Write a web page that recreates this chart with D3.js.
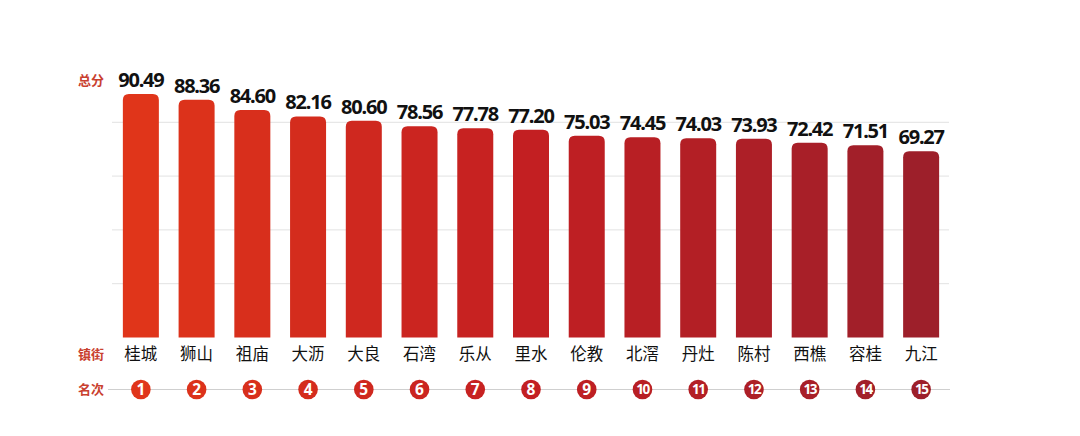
<!DOCTYPE html>
<html>
<head>
<meta charset="utf-8">
<script src="https://cdn.jsdelivr.net/npm/d3@7"></script>
<style>
  body { margin: 0; background: #fff; }
  svg { display: block; }
</style>
</head>
<body>
<div class="container"></div>
<script>
var width = 1080;
var height = 436;

// data
var towns = ["桂城", "狮山", "祖庙", "大沥", "大良", "石湾", "乐从", "里水", "伦教", "北滘", "丹灶", "陈村", "西樵", "容桂", "九江"];
var scores = [90.49, 88.36, 84.60, 82.16, 80.60, 78.56, 77.78, 77.20, 75.03, 74.45, 74.03, 73.93, 72.42, 71.51, 69.27];
var ranks = [1, 2, 3, 4, 5, 6, 7, 8, 9, 10, 11, 12, 13, 14, 15];
var gridValues = [20, 40, 60, 80];

var labelRed = "#c9402f";
var cnFont = "'Noto Sans CJK SC', sans-serif";
var numFont = "'Noto Sans', 'DejaVu Sans', sans-serif";

var svg = d3.select(".container").append("svg")
  .attr("width", width)
  .attr("height", height);

var xScale = d3.scaleBand()
  .domain(towns)
  .range([113, 949])
  .paddingInner(0.354)
  .paddingOuter(0.177);

var yScale = d3.scaleLinear()
  .domain([0, 100])
  .range([337.5, 68.5]);

// colour runs from orange-red to dark crimson
var colorScale = d3.scaleLinear()
  .domain([0, 7, 14])
  .range(["#e0351a", "#c31f22", "#9d1f2a"])
  .interpolate(d3.interpolateRgb);

// gridlines
svg.append("g")
  .selectAll("line")
  .data(gridValues)
  .enter().append("line")
  .attr("x1", 112)
  .attr("x2", 949)
  .attr("y1", d => yScale(d))
  .attr("y2", d => yScale(d))
  .style("stroke", "#e2e2e2")
  .style("stroke-width", 1);

// bars with rounded top corners
function barPath(x, y, w, h, r) {
  return "M" + x + "," + (y + h) +
    "V" + (y + r) +
    "Q" + x + "," + y + " " + (x + r) + "," + y +
    "H" + (x + w - r) +
    "Q" + (x + w) + "," + y + " " + (x + w) + "," + (y + r) +
    "V" + (y + h) + "Z";
}

svg.append("g")
  .selectAll("path")
  .data(scores)
  .enter().append("path")
  .attr("d", function(d, i) {
    var x = xScale(towns[i]);
    var y = yScale(d);
    return barPath(x, y, xScale.bandwidth(), yScale(0) - y, 6);
  })
  .attr("fill", (d, i) => colorScale(i));

// value labels
svg.append("g")
  .selectAll("text")
  .data(scores)
  .enter().append("text")
  .attr("x", (d, i) => xScale(towns[i]) + xScale.bandwidth() / 2)
  .attr("y", d => yScale(d) - 7)
  .style("text-anchor", "middle")
  .style("font-family", numFont)
  .style("font-weight", "bold")
  .style("font-size", "20px")
  .style("letter-spacing", "-1.2px")
  .style("fill", "#111")
  .text(d => d.toFixed(2));

// town names
svg.append("g")
  .selectAll("text")
  .data(towns)
  .enter().append("text")
  .attr("x", d => xScale(d) + xScale.bandwidth() / 2)
  .attr("y", 360)
  .style("text-anchor", "middle")
  .style("font-family", cnFont)
  .style("font-size", "16.5px")
  .style("fill", "#111")
  .text(d => d);

// rank row
var rankY = 389.5;
svg.append("line")
  .attr("x1", 108)
  .attr("x2", 950)
  .attr("y1", rankY)
  .attr("y2", rankY)
  .style("stroke", "#cfcfcf")
  .style("stroke-width", 1);

var rankGroup = svg.append("g");
rankGroup.selectAll("circle")
  .data(ranks)
  .enter().append("circle")
  .attr("cx", (d, i) => xScale(towns[i]) + xScale.bandwidth() / 2)
  .attr("cy", rankY)
  .attr("r", 9.8)
  .attr("fill", (d, i) => colorScale(i));

rankGroup.selectAll("text")
  .data(ranks)
  .enter().append("text")
  .attr("x", (d, i) => xScale(towns[i]) + xScale.bandwidth() / 2)
  .attr("y", rankY)
  .attr("dy", "0.36em")
  .style("text-anchor", "middle")
  .style("font-family", numFont)
  .style("font-weight", "bold")
  .style("font-size", d => d > 9 ? "13.5px" : "15.5px")
  .style("letter-spacing", d => d > 9 ? "-1.5px" : "0px")
  .style("fill", "#fff")
  .text(d => d);

// row headings on the left
var headings = [
  {text: "总分", y: 80},
  {text: "镇街", y: 354},
  {text: "名次", y: 389.5}
];
svg.append("g")
  .selectAll("text")
  .data(headings)
  .enter().append("text")
  .attr("x", 91)
  .attr("y", d => d.y)
  .attr("dy", "0.36em")
  .style("text-anchor", "middle")
  .style("font-family", cnFont)
  .style("font-weight", "bold")
  .style("font-size", "13px")
  .style("fill", labelRed)
  .text(d => d.text);
</script>
</body>
</html>
